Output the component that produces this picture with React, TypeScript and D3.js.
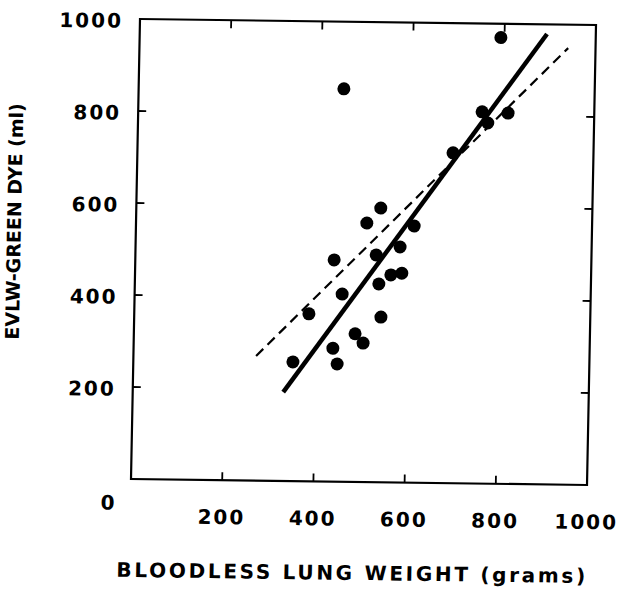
import React from "react";
import * as d3 from "d3";

const lungWeight = [350, 383, 436, 437, 447, 450, 455, 485, 503, 506, 528, 535, 536, 541, 561, 580, 585, 610, 692, 754, 767, 792, 811];
const evlwDye = [259, 364, 482, 290, 256, 854, 408, 322, 302, 563, 494, 431, 596, 359, 451, 512, 455, 558, 718, 808, 784, 970, 806];

const solidLineX = [330, 893];
const solidLineY = [193, 979];
const dashedLineX = [269, 940];
const dashedLineY = [271, 949];

const xTickValues = [200, 400, 600, 800, 1000];
const yTickValues = [200, 400, 600, 800, 1000];
const innerTicks = [200, 400, 600, 800];

const xTitle = "BLOODLESS LUNG WEIGHT (grams)";
const yTitle = "EVLW-GREEN DYE (ml)";

const W = 619;
const H = 590;
const left = 135;
const right = 591;
const top = 22;
const bottom = 482;

export default function App() {
  const x = d3.scaleLinear().domain([0, 1000]).range([left, right]);
  const y = d3.scaleLinear().domain([0, 1000]).range([bottom, top]);
  const line = d3
    .line<[number, number]>()
    .x((d) => x(d[0]))
    .y((d) => y(d[1]));
  const solid = line(solidLineX.map((v, i) => [v, solidLineY[i]] as [number, number]));
  const dashed = line(dashedLineX.map((v, i) => [v, dashedLineY[i]] as [number, number]));
  const font = "'DejaVu Sans', sans-serif";
  const tickLen = 8;

  return (
    <svg width={W} height={H} style={{ position: "absolute", left: 0, top: 0, background: "#fff" }}>
      <rect x={0} y={0} width={W} height={H} fill="#fff" />
      <g transform="matrix(1,0.01316,-0.01957,1,5.43,-4.78)">
        <rect x={left} y={top} width={right - left} height={bottom - top} fill="none" stroke="#000" strokeWidth={2.2} />
        {innerTicks.map((t) => (
          <g key={"t" + t} stroke="#000" strokeWidth={1.8}>
            <line x1={x(t)} x2={x(t)} y1={bottom} y2={bottom - tickLen} />
            <line x1={x(t)} x2={x(t)} y1={top} y2={top + tickLen} />
            <line x1={left} x2={left + tickLen} y1={y(t)} y2={y(t)} />
            <line x1={right} x2={right - tickLen} y1={y(t)} y2={y(t)} />
          </g>
        ))}
        {xTickValues.map((t) => (
          <text key={"xl" + t} x={x(t)} y={526} textAnchor="middle" fontFamily={font} fontWeight="bold" fontSize={20} letterSpacing={2}>
            {t}
          </text>
        ))}
        {yTickValues.map((t) => (
          <text key={"yl" + t} x={118} y={y(t) + 9} textAnchor="end" fontFamily={font} fontWeight="bold" fontSize={20} letterSpacing={2}>
            {t}
          </text>
        ))}
        <text x={112} y={513} textAnchor="middle" fontFamily={font} fontWeight="bold" fontSize={20}>
          0
        </text>
        <path d={dashed ?? ""} fill="none" stroke="#000" strokeWidth={2.2} strokeDasharray="10,6" />
        <path d={solid ?? ""} fill="none" stroke="#000" strokeWidth={4.5} />
        {lungWeight.map((v, i) => (
          <circle key={"p" + i} cx={x(v)} cy={y(evlwDye[i])} r={6.5} fill="#000" />
        ))}
        <text x={358} y={580} textAnchor="middle" fontFamily={font} fontWeight="bold" fontSize={20} letterSpacing={2.7}>
          {xTitle}
        </text>
        <text transform="translate(20,226) rotate(-90)" textAnchor="middle" fontFamily={font} fontWeight="bold" fontSize={19} letterSpacing={0}>
          {yTitle}
        </text>
      </g>
    </svg>
  );
}
